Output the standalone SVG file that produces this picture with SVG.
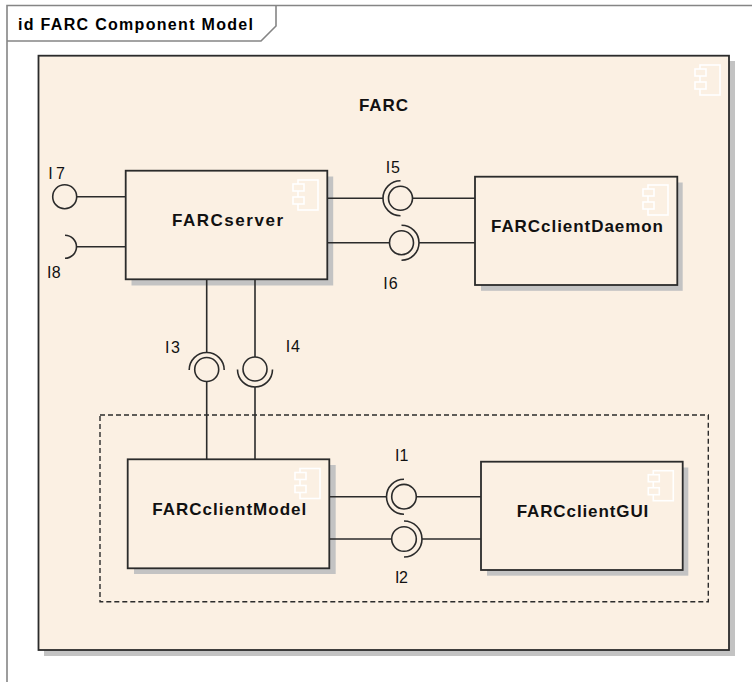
<svg xmlns="http://www.w3.org/2000/svg" width="752" height="682" viewBox="0 0 752 682">
  <defs>
    <style>
      .frame { fill: none; stroke: #858585; stroke-width: 1.6; }
      .title { font-family: "Liberation Sans", Arial, sans-serif; font-weight: bold; font-size: 16px; fill: #000; }
      .comp { fill: #FBF0E3; stroke: #2b2b2b; stroke-width: 1.8; }
      .shadow { fill: #C3C3C3; }
      .name { font-family: "Liberation Sans", Arial, sans-serif; font-weight: bold; font-size: 17px; fill: #111; }
      .lbl { font-family: "Liberation Sans", Arial, sans-serif; font-size: 16px; fill: #111; }
      .icon rect { fill: #FBF0E3; stroke: #ffffff; stroke-width: 1.6; }
      .pkg { fill: none; stroke: #2b2b2b; stroke-width: 1.4; stroke-dasharray: 5 3; }
      .wire { fill: none; stroke: #2b2b2b; stroke-width: 1.6; }
      .ball { fill: #FBF0E3; stroke: #2b2b2b; stroke-width: 1.6; }
    </style>
    <!-- component stereotype glyph, drawn at its top-left corner -->
    <g id="compIcon" class="icon">
      <rect x="5" y="0" width="20" height="30"/>
      <rect x="0" y="4" width="11" height="7"/>
      <rect x="0" y="17" width="11" height="7"/>
    </g>
  </defs>

  <rect width="752" height="682" fill="#ffffff"/>

  <!-- diagram frame with name tab -->
  <g id="frame">
    <path class="frame" d="M7,682 V5.5 H752"/>
    <path class="frame" d="M7,41 H261 L276,26 V5.5"/>
    <text class="title" x="18" y="29.5" textLength="235" lengthAdjust="spacing">id FARC Component Model</text>
  </g>

  <!-- outer component -->
  <g id="FARC">
    <rect class="shadow" x="44" y="61" width="691" height="595"/>
    <rect class="comp" x="38.5" y="55.7" width="690.5" height="594.3"/>
    <use href="#compIcon" x="695" y="65"/>
    <text class="name" x="359" y="111" textLength="49" lengthAdjust="spacing">FARC</text>
  </g>

  <!-- client package boundary -->
  <g id="clientPackage">
    <rect class="pkg" x="100" y="415" width="608.3" height="186.7"/>
  </g>

  <g id="FARCserver">
    <rect class="shadow" x="131.5" y="176.5" width="201.7" height="109"/>
    <rect class="comp" x="125.7" y="170.7" width="201.6" height="108.6"/>
    <use href="#compIcon" x="293" y="180"/>
    <text class="name" x="172" y="226" textLength="111" lengthAdjust="spacing">FARCserver</text>
  </g>

  <g id="FARCclientDaemon">
    <rect class="shadow" x="481" y="182.5" width="201.7" height="108.3"/>
    <rect class="comp" x="475" y="176.7" width="202.3" height="108.3"/>
    <use href="#compIcon" x="643" y="185"/>
    <text class="name" x="491" y="231.7" textLength="172" lengthAdjust="spacing">FARCclientDaemon</text>
  </g>

  <g id="FARCclientModel">
    <rect class="shadow" x="134" y="465" width="201.7" height="109"/>
    <rect class="comp" x="127.7" y="459.3" width="201.6" height="109"/>
    <use href="#compIcon" x="295" y="468.5"/>
    <text class="name" x="152.3" y="515" textLength="154" lengthAdjust="spacing">FARCclientModel</text>
  </g>

  <g id="FARCclientGUI">
    <rect class="shadow" x="487" y="467.5" width="201.3" height="108.2"/>
    <rect class="comp" x="481" y="461.7" width="201.7" height="108.3"/>
    <use href="#compIcon" x="648.3" y="470.7"/>
    <text class="name" x="516.7" y="516.7" textLength="131.6" lengthAdjust="spacing">FARCclientGUI</text>
  </g>

  <!-- interface connectors: provided balls and required sockets -->
  <g id="connectors">
    <!-- I7: provided by FARCserver -->
    <g id="I7">
      <line class="wire" x1="76.7" y1="196.7" x2="125.7" y2="196.7"/>
      <circle class="ball" cx="64.7" cy="196.7" r="12"/>
      <text class="lbl" x="48.3" y="179.3" textLength="16.7" lengthAdjust="spacing">I7</text>
    </g>
    <!-- I8: required by FARCserver -->
    <g id="I8">
      <line class="wire" x1="76.5" y1="246.7" x2="125.7" y2="246.7"/>
      <path class="wire" d="M65,235.2 A11.5,11.5 0 0 1 65,258.2"/>
      <text class="lbl" x="47" y="277.7" textLength="13.7" lengthAdjust="spacing">I8</text>
    </g>
    <!-- I5: FARCclientDaemon provides, FARCserver requires -->
    <g id="I5">
      <line class="wire" x1="327.3" y1="198.3" x2="383" y2="198.3"/>
      <path class="wire" d="M400.5,180.8 A17.5,17.5 0 0 0 400.5,215.8"/>
      <circle class="ball" cx="400.5" cy="198.3" r="12"/>
      <line class="wire" x1="412.5" y1="198.3" x2="475" y2="198.3"/>
      <text class="lbl" x="385.7" y="172.7" textLength="14.3" lengthAdjust="spacing">I5</text>
    </g>
    <!-- I6: FARCserver provides, FARCclientDaemon requires -->
    <g id="I6">
      <line class="wire" x1="327.3" y1="242.7" x2="389.5" y2="242.7"/>
      <circle class="ball" cx="401.5" cy="242.7" r="12"/>
      <path class="wire" d="M401.5,225.2 A17.5,17.5 0 0 1 401.5,260.2"/>
      <line class="wire" x1="419" y1="242.7" x2="475" y2="242.7"/>
      <text class="lbl" x="383.3" y="289.3" textLength="14.4" lengthAdjust="spacing">I6</text>
    </g>
    <!-- I3: FARCclientModel provides, FARCserver requires -->
    <g id="I3">
      <line class="wire" x1="206.7" y1="279.3" x2="206.7" y2="352"/>
      <path class="wire" d="M189.2,370 A17.5,17.5 0 0 1 224.2,370"/>
      <circle class="ball" cx="206.7" cy="369.5" r="12"/>
      <line class="wire" x1="206.7" y1="381.5" x2="206.7" y2="459.3"/>
      <text class="lbl" x="165" y="352.7" textLength="15" lengthAdjust="spacing">I3</text>
    </g>
    <!-- I4: FARCserver provides, FARCclientModel requires -->
    <g id="I4">
      <line class="wire" x1="255" y1="279.3" x2="255" y2="357"/>
      <circle class="ball" cx="255" cy="369" r="12"/>
      <path class="wire" d="M237.5,369.5 A17.5,17.5 0 0 0 272.5,369.5"/>
      <line class="wire" x1="255" y1="386.7" x2="255" y2="459.3"/>
      <text class="lbl" x="285.7" y="351.7" textLength="14.3" lengthAdjust="spacing">I4</text>
    </g>
    <!-- I1: FARCclientGUI provides, FARCclientModel requires -->
    <g id="I1">
      <line class="wire" x1="329.3" y1="496.7" x2="386.5" y2="496.7"/>
      <path class="wire" d="M404,479.2 A17.5,17.5 0 0 0 404,514.2"/>
      <circle class="ball" cx="404" cy="496.7" r="12.3"/>
      <line class="wire" x1="416.3" y1="496.7" x2="481" y2="496.7"/>
      <text class="lbl" x="395" y="460.5" textLength="13.3" lengthAdjust="spacing">I1</text>
    </g>
    <!-- I2: FARCclientModel provides, FARCclientGUI requires -->
    <g id="I2">
      <line class="wire" x1="329.3" y1="539" x2="391.7" y2="539"/>
      <circle class="ball" cx="404" cy="539" r="12.3"/>
      <path class="wire" d="M404,521 A18,18 0 0 1 404,557"/>
      <line class="wire" x1="422" y1="539" x2="481" y2="539"/>
      <text class="lbl" x="395" y="582.7" textLength="13" lengthAdjust="spacing">I2</text>
    </g>
  </g>
</svg>
